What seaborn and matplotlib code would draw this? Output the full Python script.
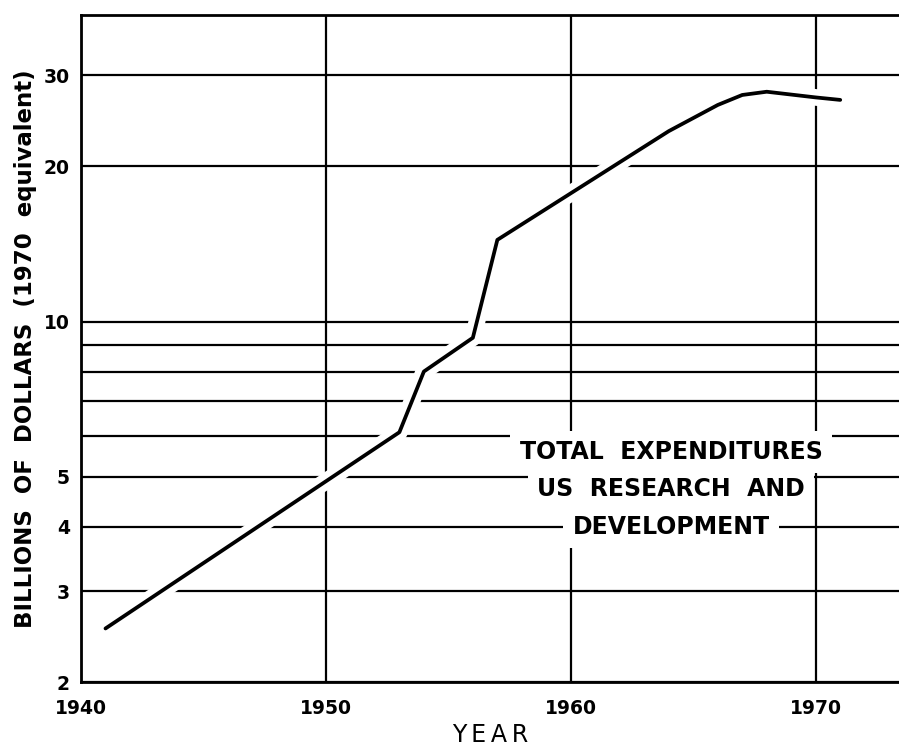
import matplotlib
matplotlib.use("Agg")
import matplotlib.pyplot as plt
import matplotlib.patheffects as pe
from matplotlib.ticker import FixedLocator, NullFormatter
import seaborn as sns
import pandas as pd

# Total US R&D expenditures, billions of 1970 dollars
years = [1941, 1953, 1954, 1956, 1957, 1964, 1966, 1967, 1968, 1970, 1971]
spending = [2.54, 6.1, 8.0, 9.3, 14.4, 23.4, 26.3, 27.5, 27.9, 27.2, 26.9]

x_ticks = [1940, 1950, 1960, 1970]
y_ticks = [2, 3, 4, 5, 10, 20, 30]
y_minor = [6, 7, 8, 9]

caption = ["TOTAL  EXPENDITURES", "US  RESEARCH  AND", "DEVELOPMENT"]

df = pd.DataFrame({"year": years, "billions": spending})

sns.set_theme(style="white")
plt.rcParams["font.family"] = ["DejaVu Sans"]
plt.rcParams["text.color"] = "black"
plt.rcParams["axes.labelcolor"] = "black"
plt.rcParams["xtick.color"] = "black"
plt.rcParams["ytick.color"] = "black"

fig = plt.figure(figsize=(8.99, 7.49), dpi=100)
ax = fig.add_axes([81 / 899, 1 - 682 / 749, 1 - 81 / 899, (682 - 15) / 749])

ax.set_yscale("log")
ax.set_xlim(1940, 1973.4)
ax.set_ylim(2, 39.3)

ax.yaxis.set_major_locator(FixedLocator(y_ticks))
ax.yaxis.set_minor_locator(FixedLocator(y_minor))
ax.yaxis.set_minor_formatter(NullFormatter())
ax.set_yticklabels([str(v) for v in y_ticks])
ax.xaxis.set_major_locator(FixedLocator(x_ticks))
ax.set_xticklabels([str(v) for v in x_ticks])

ax.set_axisbelow(True)
ax.grid(True, axis="y", which="both", color="black", linewidth=1.6)
ax.grid(True, axis="x", which="major", color="black", linewidth=1.6)

sns.lineplot(
    data=df, x="year", y="billions", ax=ax, color="black", linewidth=2.7,
    solid_joinstyle="round", solid_capstyle="round", zorder=3,
    path_effects=[pe.Stroke(linewidth=12, foreground="white"), pe.Normal()],
)

for s in ["left", "bottom", "top"]:
    ax.spines[s].set_color("black")
    ax.spines[s].set_linewidth(2.0)
ax.spines["right"].set_visible(False)

ax.tick_params(axis="both", which="both", length=0, labelsize=13.5,
               labelcolor="black")
ax.tick_params(axis="x", pad=12)
ax.tick_params(axis="y", pad=8)
for lab in ax.get_xticklabels() + ax.get_yticklabels():
    lab.set_fontweight("bold")

ax.set_xlabel("Y\u2009E\u2009A\u2009R", fontsize=17, labelpad=4, color="black")
ax.set_ylabel("BILLIONS  OF  DOLLARS  (1970  equivalent)", fontsize=16.5,
              fontweight="bold", labelpad=5, color="black")

# Caption block, each line knocking out the grid behind it
line_y = [452, 489, 527]
for txt, yp in zip(caption, line_y):
    ax.text(
        (671 - 81) / (899 - 81), (682 - yp) / (682 - 15), txt,
        transform=ax.transAxes, ha="center", va="center", fontsize=17,
        fontweight="bold", color="black", zorder=4,
        bbox=dict(boxstyle="square,pad=0.4", facecolor="white", edgecolor="none"),
    )

fig.savefig("out.png", dpi=100, facecolor="white")
